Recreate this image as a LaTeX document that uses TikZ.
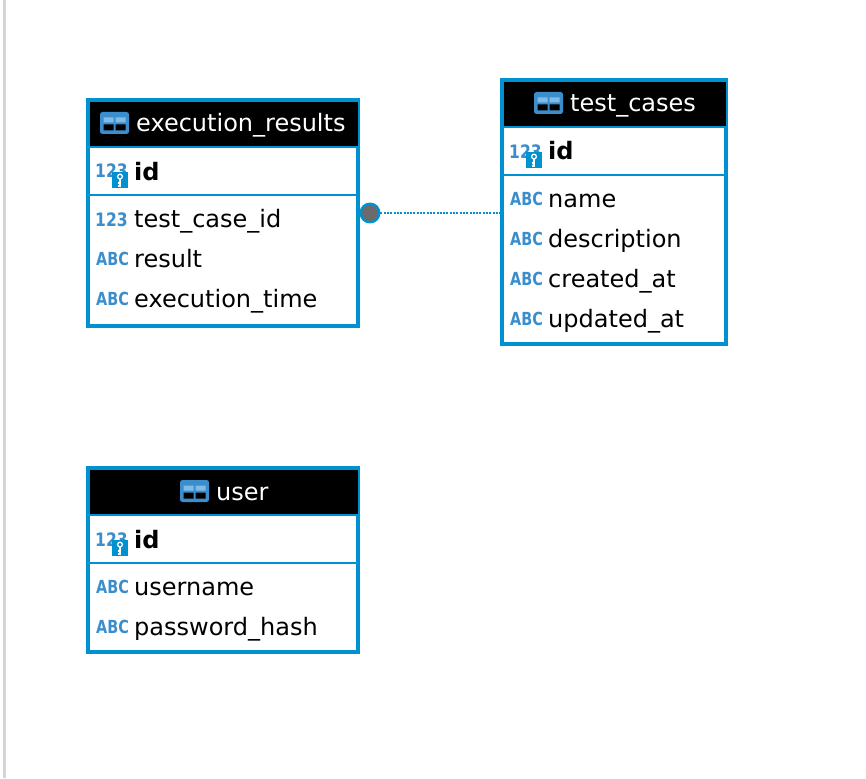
\documentclass[tikz,border=0pt]{standalone}
\usepackage{fontspec}
\setmainfont{DejaVu Sans}
\newfontfamily\iconfont[FakeStretch=0.8]{DejaVu Sans}
\newfontfamily\digitfont[FakeStretch=0.84]{DejaVu Sans}
\usetikzlibrary{positioning}
\definecolor{tableblue}{HTML}{0091D0}
\definecolor{iconblue}{HTML}{3C8DCB}
\definecolor{iconlight}{HTML}{7FBCE8}
\definecolor{dotgray}{HTML}{6B6B6B}
\definecolor{edgegray}{HTML}{D9D4CF}
\tikzset{
  tablebox/.style = { draw = tableblue, line width = 4pt, fill = white, shape = rectangle, inner sep = 0, outer sep = 0, anchor = north west },
  headbox/.style = { fill = black, shape = rectangle, inner sep = 0, outer sep = 0, anchor = north west },
  sepline/.style = { draw = tableblue, line width = 2pt },
  title/.style = { text = white, font = \fontsize{24}{27}\selectfont, inner sep = 0, anchor = base west },
  field/.style = { text = black, font = \fontsize{24}{27}\selectfont, inner sep = 0, anchor = base west },
  keyfield/.style = { text = black, font = \fontsize{24}{27}\selectfont\bfseries, inner sep = 0, anchor = base west },
  typeicon/.style = { text = iconblue, font = \iconfont\fontsize{18}{20}\selectfont\bfseries, inner sep = 0, anchor = base west },
  numicon/.style = { text = iconblue, font = \digitfont\fontsize{18.5}{20}\selectfont\bfseries, inner sep = 0, anchor = base west },
  keybox/.style = { fill = tableblue, shape = rectangle, inner sep = 0, minimum width = 16pt, minimum height = 16pt, anchor = north west },
  pics/tableicon/.style = { code = {
    \fill[iconblue, rounded corners = 2.5pt] (0, 0) rectangle (29, 22);
    \fill[iconlight] (3.5, 5.5) rectangle (13.5, 10.5) (15.5, 5.5) rectangle (25.5, 10.5);
    \fill[black] (3.5, 12.5) rectangle (13.5, 18.5) (15.5, 12.5) rectangle (25.5, 18.5);
  } },
  pics/keyicon/.style = { code = {
    \node[keybox] (#1) at (0, 0) { };
    \draw[white, line width = 1.3pt] (8, 4.6) circle (2.4);
    \draw[white, line width = 1.6pt] (8, 7) -- (8, 14.5) (8, 11) -- (5.5, 11) (8, 14) -- (5.5, 14);
  } }
}
\begin{document}
\begin{tikzpicture}[x = 1pt, y = -1pt]
    \useasboundingbox (0, 0) rectangle (866, 778);
    \fill[edgegray] (3, 0) rectangle (6, 778);

    % execution_results
    \node[tablebox, minimum width = 270pt, minimum height = 226pt] (er_box) at (88, 100) { };
    \node[headbox, minimum width = 268pt, minimum height = 44pt] (er_head) at (90, 102) { };
    \pic at (100, 112) { tableicon };
    \node[title] (er_title) at (136, 132) { execution\_results };
    \draw[sepline] (er_box.west |- 0, 147) -- (er_box.east |- 0, 147);
    \node[numicon] (er_id_type) at (95, 178) { 123 };
    \pic at (112, 172) { keyicon = er_id_key };
    \node[keyfield] (er_id) at (134, 180) { id };
    \draw[sepline] (er_box.west |- 0, 195) -- (er_box.east |- 0, 195);
    \node[numicon] (er_case_type) at (95, 226) { 123 };
    \node[field] (er_case) at (134, 227) { test\_case\_id };
    \node[typeicon] (er_result_type) at (96, 265) { ABC };
    \node[field] (er_result) at (134, 267) { result };
    \node[typeicon] (er_time_type) at (96, 305) { ABC };
    \node[field] (er_time) at (134, 307) { execution\_time };

    % test_cases
    \node[tablebox, minimum width = 224pt, minimum height = 264pt] (tc_box) at (502, 80) { };
    \node[headbox, minimum width = 222pt, minimum height = 44pt] (tc_head) at (504, 82) { };
    \pic at (534, 92) { tableicon };
    \node[title] (tc_title) at (570, 112) { test\_cases };
    \draw[sepline] (tc_box.west |- 0, 127) -- (tc_box.east |- 0, 127);
    \node[numicon] (tc_id_type) at (509, 158) { 123 };
    \pic at (526, 152) { keyicon = tc_id_key };
    \node[keyfield] (tc_id) at (548, 160) { id };
    \draw[sepline] (tc_box.west |- 0, 175) -- (tc_box.east |- 0, 175);
    \node[typeicon] (tc_name_type) at (510, 205) { ABC };
    \node[field] (tc_name) at (548, 207) { name };
    \node[typeicon] (tc_desc_type) at (510, 245) { ABC };
    \node[field] (tc_desc) at (548, 247) { description };
    \node[typeicon] (tc_created_type) at (510, 285) { ABC };
    \node[field] (tc_created) at (548, 287) { created\_at };
    \node[typeicon] (tc_updated_type) at (510, 325) { ABC };
    \node[field] (tc_updated) at (548, 327) { updated\_at };

    % user
    \node[tablebox, minimum width = 270pt, minimum height = 184pt] (us_box) at (88, 468) { };
    \node[headbox, minimum width = 268pt, minimum height = 44pt] (us_head) at (90, 470) { };
    \pic at (180, 480) { tableicon };
    \node[title] (us_title) at (216, 500) { user };
    \draw[sepline] (us_box.west |- 0, 515) -- (us_box.east |- 0, 515);
    \node[numicon] (us_id_type) at (95, 546) { 123 };
    \pic at (112, 540) { keyicon = us_id_key };
    \node[keyfield] (us_id) at (134, 548) { id };
    \draw[sepline] (us_box.west |- 0, 563) -- (us_box.east |- 0, 563);
    \node[typeicon] (us_name_type) at (96, 593) { ABC };
    \node[field] (us_name) at (134, 595) { username };
    \node[typeicon] (us_pass_type) at (96, 633) { ABC };
    \node[field] (us_pass) at (134, 635) { password\_hash };

    % link
    \node[circle, draw = tableblue, fill = dotgray, line width = 2.4pt, inner sep = 0, minimum size = 18.5pt] (er_dot) at (370, 213) { };
    \draw[tableblue, line width = 1.8pt, dash pattern = on 2pt off 1.3pt] (er_dot) -- (er_dot -| tc_box.west);
  \end{tikzpicture}
\end{document}
